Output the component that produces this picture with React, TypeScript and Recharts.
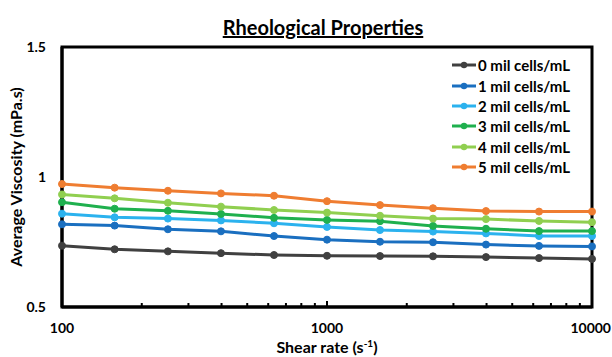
import { FC } from 'react'
import { LineChart, Line, XAxis, YAxis, Legend, ReferenceArea, Label } from 'recharts'

const shearRates = [100, 158, 251, 398, 631, 1000, 1585, 2512, 3981, 6310, 10000]
const mil0 = [0.736, 0.722, 0.714, 0.707, 0.7, 0.697, 0.696, 0.695, 0.692, 0.688, 0.685]
const mil1 = [0.818, 0.813, 0.799, 0.791, 0.773, 0.759, 0.751, 0.749, 0.74, 0.735, 0.733]
const mil2 = [0.859, 0.845, 0.84, 0.833, 0.822, 0.808, 0.796, 0.79, 0.783, 0.773, 0.773]
const mil3 = [0.903, 0.878, 0.87, 0.858, 0.843, 0.835, 0.83, 0.812, 0.801, 0.792, 0.792]
const mil4 = [0.933, 0.918, 0.901, 0.886, 0.873, 0.863, 0.851, 0.84, 0.838, 0.831, 0.826]
const mil5 = [0.973, 0.959, 0.947, 0.937, 0.928, 0.907, 0.892, 0.88, 0.869, 0.867, 0.867]

const seriesNames = ['0 mil cells/mL', '1 mil cells/mL', '2 mil cells/mL', '3 mil cells/mL', '4 mil cells/mL', '5 mil cells/mL']
const seriesValues = [mil0, mil1, mil2, mil3, mil4, mil5]
const COLORS = ['#404040', '#1a6fc0', '#2bb2ee', '#1fb04e', '#90cf50', '#ef7d31']

const majorTicks = [100, 1000, 10000]
const xTicks = [100, 200, 300, 400, 500, 600, 700, 800, 900, 1000, 2000, 3000, 4000, 5000, 6000, 7000, 8000, 9000, 10000]
const yTicks = [0.5, 1, 1.5]

const FONT = 'Lato, "Open Sans", sans-serif'

const chartData = shearRates.map((rate, i) => {
  const row: Record<string, number> = { rate }
  seriesNames.forEach((name, s) => {
    row[name] = seriesValues[s][i]
  })
  return row
})

const XTick = (props: any) => {
  const { x, y, payload } = props
  const major = majorTicks.includes(payload.value)
  const last = payload.value === 10000
  return (
    <g>
      <line x1={x} x2={x} y1={y} y2={y - (major ? 6 : 4)} stroke="#000" strokeWidth={2} />
      {major && (
        <text
          x={last ? 611 : x}
          y={y + 26}
          textAnchor={last ? 'end' : 'middle'}
          fontFamily={FONT}
          fontWeight="bold"
          fontSize={14}
          fill="#000">
          {payload.value}
        </text>
      )}
    </g>
  )
}

const LegendBox = () => (
  <div style={{ fontFamily: FONT, fontWeight: 'bold', fontSize: 15, color: '#000' }}>
    {seriesNames.map((name, i) => (
      <div key={name} style={{ display: 'flex', alignItems: 'center', height: 20.4 }}>
        <svg width={26} height={10} style={{ marginRight: 1 }}>
          <line x1={1} x2={25} y1={5} y2={5} stroke={COLORS[i]} strokeWidth={3} />
          <circle cx={13} cy={5} r={3.2} fill={COLORS[i]} />
        </svg>
        <span>{name}</span>
      </div>
    ))}
  </div>
)

const App: FC = () => {
  return (
    <div style={{ position: 'absolute', left: 0, top: 0, width: 612, height: 357, background: '#fff' }}>
      <div
        style={{
          position: 'absolute',
          left: 0,
          width: 646,
          top: 14,
          textAlign: 'center',
          fontFamily: FONT,
          fontWeight: 'bold',
          fontSize: 20,
          textDecoration: 'underline',
          lineHeight: '26px',
        }}>
        Rheological Properties
      </div>
      <LineChart width={612} height={357} data={chartData} margin={{ top: 47, right: 20, left: 0, bottom: 0 }}>
        <ReferenceArea x1={100} x2={10000} y1={0.5} y2={1.5} fill="none" stroke="#000" strokeWidth={3} />
        <XAxis
          dataKey="rate"
          type="number"
          scale="log"
          domain={[100, 10000]}
          ticks={xTicks}
          interval={0}
          height={50}
          tickLine={false}
          tickSize={0}
          tickMargin={0}
          tick={<XTick />}
          axisLine={{ stroke: '#000', strokeWidth: 3 }}>
          <Label
            content={() => (
              <text x={327} y={353} textAnchor="middle" fontFamily={FONT} fontWeight="bold" fontSize={16} fill="#000">
                Shear rate (s
                <tspan dy={-6} fontSize={10}>
                  -1
                </tspan>
                <tspan dy={6}>)</tspan>
              </text>
            )}
          />
        </XAxis>
        <YAxis
          type="number"
          domain={[0.5, 1.5]}
          ticks={yTicks}
          width={62}
          tickLine={false}
          tickSize={0}
          tickMargin={16}
          tick={{ fontFamily: FONT, fontWeight: 'bold', fontSize: 14, fill: '#000' }}
          axisLine={{ stroke: '#000', strokeWidth: 3 }}>
          <Label
            content={() => (
              <text
                x={15}
                y={177}
                transform="rotate(-90 15 177)"
                textAnchor="middle"
                dominantBaseline="central"
                fontFamily={FONT}
                fontWeight="bold"
                fontSize={16}
                fill="#000">
                Average Viscosity (mPa.s)
              </text>
            )}
          />
        </YAxis>
        <Legend
          layout="horizontal"
          align="center"
          verticalAlign="middle"
          content={<LegendBox />}
          wrapperStyle={{ position: 'absolute', top: 55, left: 451, width: 150 }}
        />
        {seriesNames.map((name, i) => (
          <Line
            key={name}
            dataKey={name}
            stroke={COLORS[i]}
            strokeWidth={3}
            dot={{ r: 3.5, fill: COLORS[i], stroke: COLORS[i], strokeWidth: 1 }}
            isAnimationActive={false}
          />
        ))}
      </LineChart>
    </div>
  )
}

export default App
